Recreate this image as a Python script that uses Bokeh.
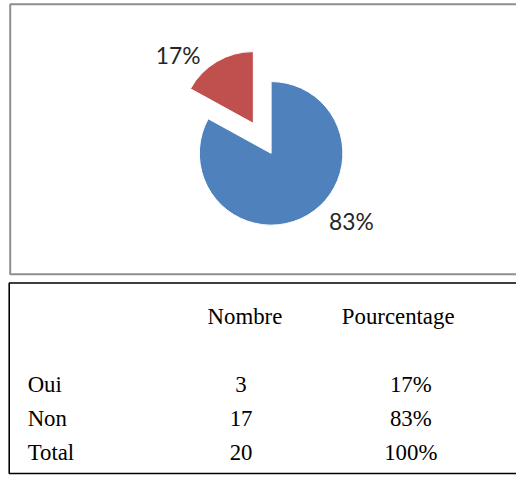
import math
from bokeh.plotting import figure
from bokeh.models import Range1d, ColumnDataSource
from bokeh.core.properties import value
from bokeh.embed import file_html
from bokeh.resources import INLINE

# ---- data ----
categories = ["Oui", "Non"]
counts = [3, 17]
percents = [17, 83]
pct_labels = ["17%", "83%"]
total_label = "Total"
total_count = "20"
total_pct = "100%"
headers = ["Nombre", "Pourcentage"]
colors = ["#C0504D", "#4F81BD"]

# ---- layout (data units = reference pixels, scaled into the window) ----
RW, RH = 532, 491
W, H = 516, 475
S = W / RW
p = figure(width=W, height=H, x_range=Range1d(0, RW), y_range=Range1d(-RH, 0),
           output_backend="svg", toolbar_location=None, min_border=0)
p.axis.visible = False
p.grid.visible = False
p.outline_line_color = None
p.background_fill_color = "white"
p.border_fill_color = "white"

def Y(py):
    return -py

def px(v):
    return f"{v * S:.1f}px"

# chart box
p.quad(left=[10], right=[560], top=[Y(4)], bottom=[Y(283)], fill_color=None,
       line_color="#8f8f8f", line_width=2)
# table box
p.quad(left=[9], right=[560], top=[Y(292)], bottom=[Y(489)], fill_color=None,
       line_color="black", line_width=1.6)

# ---- pie ----
cx, cy, r = 279, Y(158), 74
explode = [36, 0]
label_shift = [17, 19.4]   # degrees
label_dist = [105, 108]
tot = sum(percents)
start = math.pi / 2
xs, ys, sa, ea, lx, ly = [], [], [], [], [], []
for i, v in enumerate(percents):
    span = v / tot * 2 * math.pi
    s, e = start, start + span
    mid = (s + e) / 2
    x0 = cx + explode[i] * math.cos(mid)
    y0 = cy + explode[i] * math.sin(mid)
    xs.append(x0); ys.append(y0); sa.append(s); ea.append(e)
    la = mid + math.radians(label_shift[i])
    lx.append(x0 + label_dist[i] * math.cos(la))
    ly.append(y0 + label_dist[i] * math.sin(la))
    start = e

src = ColumnDataSource(dict(x=xs, y=ys, s=sa, e=ea, c=colors, lx=lx, ly=ly, t=pct_labels))
p.wedge(x="x", y="y", radius=r, start_angle="s", end_angle="e", fill_color="c",
        line_color="white", line_width=1, source=src)
p.text(x="lx", y="ly", text="t", source=src, text_font=value("Lato"),
       text_font_size=px(23.5), text_color="#262626", text_align="center",
       text_baseline="middle")

# ---- table ----
serif = value("Liberation Serif")
fs = px(23.5)
p.text(x=[252, 410], y=[Y(327)] * 2, text=headers, text_font=serif, text_font_size=fs,
       text_color="black", text_align="center", text_baseline="alphabetic")

row_labels = categories + [total_label]
row_counts = [str(c) for c in counts] + [total_count]
row_pcts = pct_labels + [total_pct]
baselines = [Y(397), Y(432), Y(467)]
p.text(x=[28] * 3, y=baselines, text=row_labels, text_font=serif, text_font_size=fs,
       text_color="black", text_align="left", text_baseline="alphabetic")
p.text(x=[248] * 3, y=baselines, text=row_counts, text_font=serif, text_font_size=fs,
       text_color="black", text_align="center", text_baseline="alphabetic")
p.text(x=[423] * 3, y=baselines, text=row_pcts, text_font=serif, text_font_size=fs,
       text_color="black", text_align="center", text_baseline="alphabetic")

open("out.html", "w").write(file_html(p, INLINE))
